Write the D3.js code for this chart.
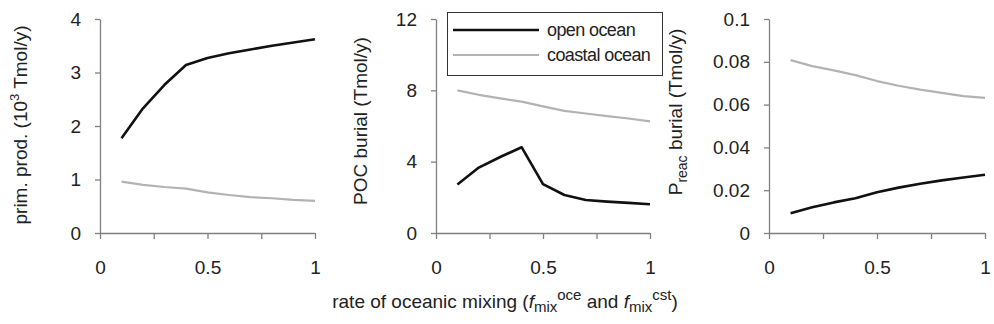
<!DOCTYPE html>
<html lang="en">
<head>
<meta charset="UTF-8">
<title>Oceanic mixing</title>
<script src="https://d3js.org/d3.v7.min.js"></script>
<style>
  body { margin: 0; background: #fff; }
  svg { font-family: "Liberation Sans", Arial, sans-serif; }
  .tick text { font-size: 19px; fill: #222; }
  .axis path, .axis line { stroke: #808080; stroke-width: 1.3px; }
</style>
</head>
<body>
<svg id="chart" width="994" height="324"></svg>
<script>
// x values (mixing rate)
const mixRate = [0.1, 0.2, 0.3, 0.4, 0.5, 0.6, 0.7, 0.8, 0.9, 1.0];

// primary production (10^3 Tmol/y)
const primOpen    = [1.77, 2.33, 2.77, 3.14, 3.27, 3.36, 3.43, 3.50, 3.56, 3.62];
const primCoastal = [0.96, 0.90, 0.86, 0.83, 0.76, 0.71, 0.67, 0.65, 0.62, 0.60];

// POC burial (Tmol/y)
const pocOpen    = [2.72, 3.67, 4.26, 4.81, 2.74, 2.13, 1.85, 1.76, 1.69, 1.61];
const pocCoastal = [8.00, 7.75, 7.55, 7.37, 7.10, 6.85, 6.70, 6.55, 6.42, 6.26];

// Preac burial (Tmol/y)
const preacOpen    = [0.0092, 0.0120, 0.0143, 0.0162, 0.0190, 0.0212, 0.0230, 0.0246, 0.0259, 0.0272];
const preacCoastal = [0.0808, 0.0780, 0.0760, 0.0738, 0.0710, 0.0688, 0.0670, 0.0655, 0.0640, 0.0631];

const xTicks = [0, 0.25, 0.5, 0.75, 1];
const xTickLabels = {0: "0", 0.5: "0.5", 1: "1"};

const seriesNames = ["open ocean", "coastal ocean"];
const seriesColors = ["#111111", "#b3b3b3"];
const seriesWidths = [2.6, 2.2];

const panels = [
  { left: 100, right: 315, yMax: 4,   yTicks: [0, 1, 2, 3, 4], fmt: d3.format("d"),
    data: [primOpen, primCoastal], labelX: 27, labelY: 125 },
  { left: 436, right: 650, yMax: 12,  yTicks: [0, 4, 8, 12], fmt: d3.format("d"),
    data: [pocOpen, pocCoastal], labelX: 367, labelY: 121 },
  { left: 769, right: 985, yMax: 0.1, yTicks: [0, 0.02, 0.04, 0.06, 0.08, 0.1], fmt: d => d === 0 ? "0" : String(+d.toFixed(2)),
    data: [preacOpen, preacCoastal], labelX: 682, labelY: 112 }
];

const plotTop = 19, plotBottom = 233;
const svg = d3.select("#chart");

panels.forEach((p, pi) => {
  const x = d3.scaleLinear().domain([0, 1]).range([p.left, p.right]);
  const y = d3.scaleLinear().domain([0, p.yMax]).range([plotBottom, plotTop]);

  svg.append("g").attr("class", "axis")
    .attr("transform", `translate(0,${plotBottom})`)
    .call(d3.axisBottom(x).tickValues(xTicks).tickSize(6).tickSizeOuter(0)
      .tickFormat(d => xTickLabels[d] || ""))
    .call(g => g.selectAll(".tick text").attr("y", 41).attr("dy", 0));

  svg.append("g").attr("class", "axis")
    .attr("transform", `translate(${p.left},0)`)
    .call(d3.axisLeft(y).tickValues(p.yTicks).tickSize(5).tickSizeOuter(0).tickFormat(p.fmt))
    .call(g => g.selectAll(".tick text").attr("x", -19));

  p.data.forEach((vals, si) => {
    const line = d3.line().x((d, i) => x(mixRate[i])).y(d => y(d));
    svg.append("path").datum(vals)
      .attr("fill", "none")
      .attr("stroke", seriesColors[si])
      .attr("stroke-width", seriesWidths[si])
      .attr("stroke-linejoin", "round")
      .attr("d", line);
  });
});

// y axis titles
const yTitle = (p, build) => {
  const t = svg.append("text")
    .attr("transform", `translate(${p.labelX},${p.labelY}) rotate(-90)`)
    .attr("text-anchor", "middle")
    .attr("font-size", 19)
    .attr("fill", "#222");
  build(t);
};
yTitle(panels[0], t => {
  t.append("tspan").text("prim. prod. (10");
  t.append("tspan").attr("dy", -8).attr("font-size", 13).text("3");
  t.append("tspan").attr("dy", 8).text(" Tmol/y)");
});
yTitle(panels[1], t => t.text("POC burial (Tmol/y)"));
yTitle(panels[2], t => {
  t.append("tspan").text("P");
  t.append("tspan").attr("dy", 5).attr("font-size", 14).text("reac");
  t.append("tspan").attr("dy", -5).text(" burial (Tmol/y)");
});

// x axis title
const xt = svg.append("text")
  .attr("x", 505).attr("y", 308)
  .attr("text-anchor", "middle")
  .attr("font-size", 19)
  .attr("fill", "#222");
xt.append("tspan").text("rate of oceanic mixing (");
xt.append("tspan").attr("font-style", "italic").text("f");
xt.append("tspan").attr("dy", 4).attr("font-size", 15).text("mix");
xt.append("tspan").attr("dy", -12).attr("font-size", 15).text("oce");
xt.append("tspan").attr("dy", 8).text(" and ");
xt.append("tspan").attr("font-style", "italic").text("f");
xt.append("tspan").attr("dy", 4).attr("font-size", 15).text("mix");
xt.append("tspan").attr("dy", -12).attr("font-size", 15).text("cst");
xt.append("tspan").attr("dy", 8).text(")");

// legend
const lg = svg.append("g");
lg.append("rect")
  .attr("x", 447.5).attr("y", 12.5).attr("width", 215).attr("height", 63)
  .attr("fill", "#fff").attr("stroke", "#333").attr("stroke-width", 1);
seriesNames.forEach((name, i) => {
  const yy = 30 + i * 25;
  lg.append("line")
    .attr("x1", 453).attr("x2", 539).attr("y1", yy).attr("y2", yy)
    .attr("stroke", seriesColors[i]).attr("stroke-width", seriesWidths[i]);
  lg.append("text")
    .attr("x", 547).attr("y", yy + 6)
    .attr("font-size", 18)
    .attr("letter-spacing", -0.6)
    .attr("fill", "#222")
    .text(name);
});
</script>
</body>
</html>
